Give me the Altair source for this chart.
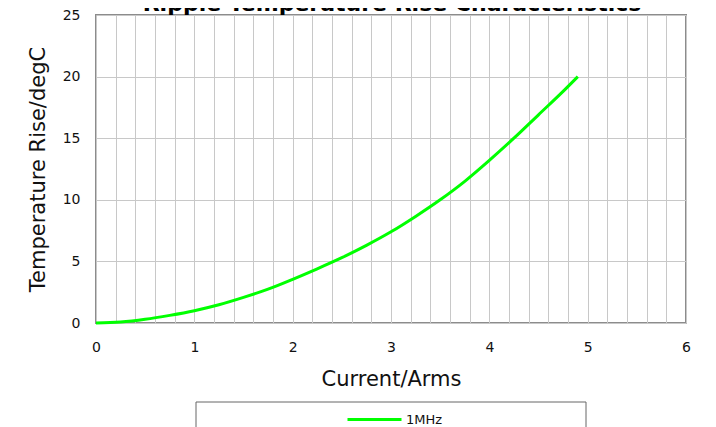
import altair as alt
import pandas as pd

# Data
current_arms = [0, 0.25, 0.5, 0.75, 1.0, 1.25, 1.5, 1.75, 2.0, 2.25, 2.5,
                2.75, 3.0, 3.25, 3.5, 3.75, 4.0, 4.25, 4.5, 4.75, 4.9]
temp_rise = [0, 0.08, 0.3, 0.62, 1.0, 1.48, 2.08, 2.75, 3.55, 4.4, 5.3,
             6.3, 7.4, 8.65, 10.0, 11.5, 13.2, 15.0, 16.9, 18.8, 20.0]
series_name = ["1MHz"] * len(current_arms)
chart_title = ["Ripple Temperature Rise Characteristics"]

x_grid_values = [round(i * 0.2, 1) for i in range(31)]
y_tick_values = [0, 5, 10, 15, 20, 25]

df = pd.DataFrame({"current": current_arms, "temp": temp_rise, "series": series_name})

FONT = "DejaVu Sans"

line = alt.Chart(df).mark_line(strokeWidth=3, interpolate="monotone").encode(
    x=alt.X(
        "current:Q",
        scale=alt.Scale(domain=[0, 6], nice=False, zero=True),
        axis=alt.Axis(
            title="Current/Arms",
            values=x_grid_values,
            labelExpr="abs(datum.value - round(datum.value)) < 0.001 ? format(datum.value, 'd') : ''",
            ticks=False,
            domain=False,
            grid=True,
            gridColor="#c8c8c8",
            gridWidth=1,
            labelFont=FONT,
            labelFontSize=14,
            labelColor="#111111",
            labelPadding=17,
            labelFlush=False,
            titleFont=FONT,
            titleFontSize=21,
            titleFontWeight="normal",
            titleColor="#111111",
            titlePadding=14,
        ),
    ),
    y=alt.Y(
        "temp:Q",
        scale=alt.Scale(domain=[0, 25], nice=False),
        axis=alt.Axis(
            title="Temperature Rise/degC",
            values=y_tick_values,
            ticks=False,
            domain=False,
            grid=True,
            gridColor="#c8c8c8",
            gridWidth=1,
            labelFont=FONT,
            labelFontSize=14,
            labelColor="#111111",
            labelPadding=16,
            labelFlush=False,
            titleFont=FONT,
            titleFontSize=21,
            titleFontWeight="normal",
            titleColor="#111111",
            titlePadding=14,
        ),
    ),
    color=alt.Color(
        "series:N",
        scale=alt.Scale(domain=["1MHz"], range=["#00ff00"]),
        legend=alt.Legend(
            title=None,
            orient="none",
            legendX=250,
            legendY=376,
            symbolType="stroke",
            symbolSize=2916,
            symbolStrokeWidth=3,
            labelFont=FONT,
            labelFontSize=13,
            labelColor="#111111",
            labelOffset=3,
            padding=0,
        ),
    ),
)

legend_box = alt.Chart(pd.DataFrame({"k": [0]})).mark_rect(
    fill="transparent", stroke="#666666", strokeWidth=1
).encode(
    x=alt.value(100), x2=alt.value(490), y=alt.value(387), y2=alt.value(470)
)

title_text = alt.Chart(pd.DataFrame({"t": chart_title})).mark_text(
    font=FONT, fontSize=22, fontWeight="bold", color="#000000",
    align="center", baseline="alphabetic"
).encode(
    text="t:N", x=alt.value(296), y=alt.value(-4)
)

chart = alt.layer(legend_box, line, title_text).properties(
    width=590,
    height=308,
    autosize=alt.AutoSizeParams(type="none"),
    padding={"left": 88, "top": 7, "right": 22, "bottom": 104},
).configure(
    background="white"
).configure_view(
    stroke="#8c8c8c", strokeWidth=2
)

chart.save("out.html", embed_options={"renderer": "svg", "actions": False})
